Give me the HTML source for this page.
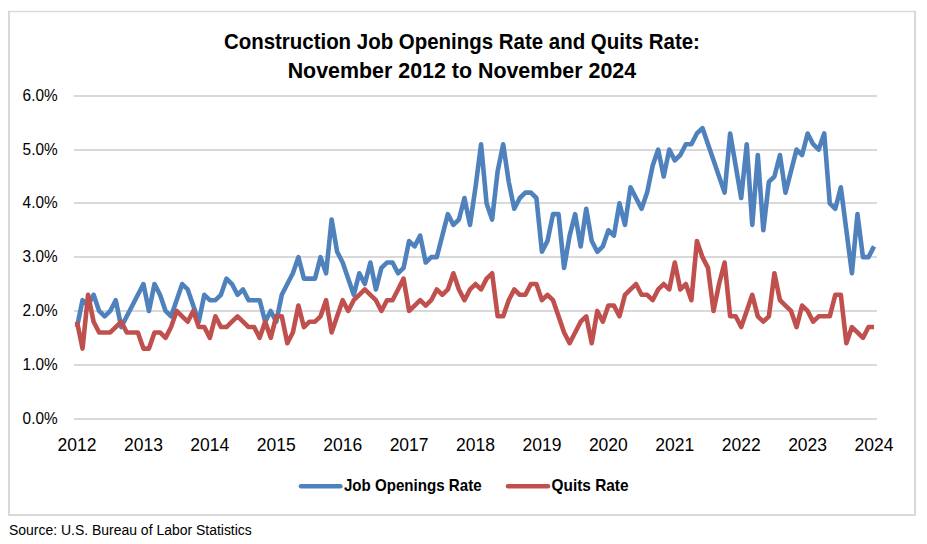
<!DOCTYPE html>
<html><head><meta charset="utf-8"><style>
html,body{margin:0;padding:0;background:#fff;}
svg{display:block;font-family:"Liberation Sans", sans-serif;}
</style></head><body>
<svg width="927" height="544" viewBox="0 0 927 544">
<rect x="0" y="0" width="927" height="544" fill="#fff"/>
<rect x="8" y="10.75" width="908" height="1.5" fill="#d9d9d9"/><rect x="8" y="11" width="2" height="505" fill="#d9d9d9"/><rect x="914" y="11" width="2" height="505" fill="#d9d9d9"/><rect x="8" y="514" width="908" height="2" fill="#d9d9d9"/>
<text x="461.9" y="48.9" text-anchor="middle" font-size="21.8" font-weight="bold" textLength="476" lengthAdjust="spacingAndGlyphs">Construction Job Openings Rate and Quits Rate:</text>
<text x="461.9" y="77.5" text-anchor="middle" font-size="21.8" font-weight="bold" textLength="348.5" lengthAdjust="spacingAndGlyphs">November 2012 to November 2024</text>
<rect x="74" y="418" width="803" height="2" fill="#d9d9d9"/>
<rect x="74" y="364" width="803" height="2" fill="#d9d9d9"/>
<rect x="74" y="310" width="803" height="2" fill="#d9d9d9"/>
<rect x="74" y="256" width="803" height="2" fill="#d9d9d9"/>
<rect x="74" y="202" width="803" height="2" fill="#d9d9d9"/>
<rect x="74" y="149" width="803" height="2" fill="#d9d9d9"/>
<rect x="74" y="95" width="803" height="2" fill="#d9d9d9"/>
<text x="22.6" y="423.60" font-size="16" fill="#000" textLength="35" lengthAdjust="spacingAndGlyphs">0.0%</text>
<text x="22.6" y="369.60" font-size="16" fill="#000" textLength="35" lengthAdjust="spacingAndGlyphs">1.0%</text>
<text x="22.6" y="315.60" font-size="16" fill="#000" textLength="35" lengthAdjust="spacingAndGlyphs">2.0%</text>
<text x="22.6" y="261.60" font-size="16" fill="#000" textLength="35" lengthAdjust="spacingAndGlyphs">3.0%</text>
<text x="22.6" y="207.60" font-size="16" fill="#000" textLength="35" lengthAdjust="spacingAndGlyphs">4.0%</text>
<text x="22.6" y="154.60" font-size="16" fill="#000" textLength="35" lengthAdjust="spacingAndGlyphs">5.0%</text>
<text x="22.6" y="100.60" font-size="16" fill="#000" textLength="35" lengthAdjust="spacingAndGlyphs">6.0%</text>
<text x="77.00" y="450.9" text-anchor="middle" font-size="17.5" fill="#000">2012</text>
<text x="143.42" y="450.9" text-anchor="middle" font-size="17.5" fill="#000">2013</text>
<text x="209.84" y="450.9" text-anchor="middle" font-size="17.5" fill="#000">2014</text>
<text x="276.26" y="450.9" text-anchor="middle" font-size="17.5" fill="#000">2015</text>
<text x="342.68" y="450.9" text-anchor="middle" font-size="17.5" fill="#000">2016</text>
<text x="409.10" y="450.9" text-anchor="middle" font-size="17.5" fill="#000">2017</text>
<text x="475.52" y="450.9" text-anchor="middle" font-size="17.5" fill="#000">2018</text>
<text x="541.94" y="450.9" text-anchor="middle" font-size="17.5" fill="#000">2019</text>
<text x="608.36" y="450.9" text-anchor="middle" font-size="17.5" fill="#000">2020</text>
<text x="674.78" y="450.9" text-anchor="middle" font-size="17.5" fill="#000">2021</text>
<text x="741.20" y="450.9" text-anchor="middle" font-size="17.5" fill="#000">2022</text>
<text x="807.62" y="450.9" text-anchor="middle" font-size="17.5" fill="#000">2023</text>
<text x="874.04" y="450.9" text-anchor="middle" font-size="17.5" fill="#000">2024</text>
<polyline points="77.00,327.07 82.53,300.18 88.07,305.56 93.61,294.81 99.14,310.94 104.67,316.32 110.21,310.94 115.75,300.18 121.28,327.07 126.81,316.32 132.35,305.56 137.88,294.81 143.42,284.05 148.95,310.94 154.49,284.05 160.03,294.81 165.56,310.94 171.09,316.32 176.63,300.18 182.17,284.05 187.70,289.43 193.24,305.56 198.77,321.70 204.31,294.81 209.84,300.18 215.38,300.18 220.91,294.81 226.44,278.67 231.98,284.05 237.52,294.81 243.05,289.43 248.59,300.18 254.12,300.18 259.65,300.18 265.19,321.70 270.73,310.94 276.26,321.70 281.80,294.81 287.33,284.05 292.87,273.29 298.40,257.16 303.94,278.67 309.47,278.67 315.00,278.67 320.54,257.16 326.08,273.29 331.61,219.51 337.14,251.78 342.68,262.54 348.22,278.67 353.75,294.81 359.29,273.29 364.82,284.05 370.36,262.54 375.89,289.43 381.43,267.92 386.96,262.54 392.50,262.54 398.03,273.29 403.56,267.92 409.10,241.03 414.63,246.40 420.17,235.65 425.70,262.54 431.24,257.16 436.78,257.16 442.31,235.65 447.85,214.14 453.38,224.89 458.92,219.51 464.45,198.00 469.99,224.89 475.52,187.25 481.06,144.22 486.59,203.38 492.12,219.51 497.66,171.11 503.19,144.22 508.73,181.87 514.26,208.76 519.80,198.00 525.34,192.62 530.87,192.62 536.40,198.00 541.94,251.78 547.48,241.03 553.01,214.14 558.55,214.14 564.08,267.92 569.62,235.65 575.15,214.14 580.68,246.40 586.22,208.76 591.75,241.03 597.29,251.78 602.83,246.40 608.36,230.27 613.89,235.65 619.43,203.38 624.97,224.89 630.50,187.25 636.03,198.00 641.57,208.76 647.11,192.62 652.64,165.73 658.18,149.60 663.71,176.49 669.25,149.60 674.78,160.36 680.32,154.98 685.85,144.22 691.38,144.22 696.92,133.47 702.46,128.09 707.99,144.22 713.52,160.36 719.06,176.49 724.60,192.62 730.13,133.47 735.66,165.73 741.20,198.00 746.74,144.22 752.27,224.89 757.81,154.98 763.34,230.27 768.88,181.87 774.41,176.49 779.95,154.98 785.48,192.62 791.01,171.11 796.55,149.60 802.09,154.98 807.62,133.47 813.15,144.22 818.69,149.60 824.23,133.47 829.76,203.38 835.30,208.76 840.83,187.25 846.37,230.27 851.90,273.29 857.44,214.14 862.97,257.16 868.50,257.16 874.04,246.40" fill="none" stroke="#4f81bd" stroke-width="4.6" stroke-linejoin="round" stroke-linecap="butt"/>
<polyline points="77.00,321.70 82.53,348.59 88.07,294.81 93.61,321.70 99.14,332.45 104.67,332.45 110.21,332.45 115.75,327.07 121.28,321.70 126.81,332.45 132.35,332.45 137.88,332.45 143.42,348.59 148.95,348.59 154.49,332.45 160.03,332.45 165.56,337.83 171.09,327.07 176.63,310.94 182.17,316.32 187.70,321.70 193.24,310.94 198.77,327.07 204.31,327.07 209.84,337.83 215.38,316.32 220.91,327.07 226.44,327.07 231.98,321.70 237.52,316.32 243.05,321.70 248.59,327.07 254.12,327.07 259.65,337.83 265.19,321.70 270.73,337.83 276.26,316.32 281.80,316.32 287.33,343.21 292.87,332.45 298.40,305.56 303.94,327.07 309.47,321.70 315.00,321.70 320.54,316.32 326.08,300.18 331.61,332.45 337.14,316.32 342.68,300.18 348.22,310.94 353.75,300.18 359.29,294.81 364.82,289.43 370.36,294.81 375.89,300.18 381.43,310.94 386.96,300.18 392.50,300.18 398.03,289.43 403.56,278.67 409.10,310.94 414.63,305.56 420.17,300.18 425.70,305.56 431.24,300.18 436.78,289.43 442.31,294.81 447.85,289.43 453.38,273.29 458.92,289.43 464.45,300.18 469.99,289.43 475.52,284.05 481.06,289.43 486.59,278.67 492.12,273.29 497.66,316.32 503.19,316.32 508.73,300.18 514.26,289.43 519.80,294.81 525.34,294.81 530.87,284.05 536.40,284.05 541.94,300.18 547.48,294.81 553.01,300.18 558.55,316.32 564.08,332.45 569.62,343.21 575.15,332.45 580.68,321.70 586.22,316.32 591.75,343.21 597.29,310.94 602.83,321.70 608.36,305.56 613.89,305.56 619.43,316.32 624.97,294.81 630.50,289.43 636.03,284.05 641.57,294.81 647.11,294.81 652.64,300.18 658.18,289.43 663.71,284.05 669.25,289.43 674.78,262.54 680.32,289.43 685.85,284.05 691.38,300.18 696.92,241.03 702.46,257.16 707.99,267.92 713.52,310.94 719.06,284.05 724.60,262.54 730.13,316.32 735.66,316.32 741.20,327.07 746.74,310.94 752.27,294.81 757.81,316.32 763.34,321.70 768.88,316.32 774.41,273.29 779.95,300.18 785.48,305.56 791.01,310.94 796.55,327.07 802.09,305.56 807.62,310.94 813.15,321.70 818.69,316.32 824.23,316.32 829.76,316.32 835.30,294.81 840.83,294.81 846.37,343.21 851.90,327.07 857.44,332.45 862.97,337.83 868.50,327.07 874.04,327.07" fill="none" stroke="#c0504d" stroke-width="4.6" stroke-linejoin="round" stroke-linecap="butt"/>
<line x1="301" x2="340.4" y1="486.2" y2="486.2" stroke="#4f81bd" stroke-width="4.5" stroke-linecap="round"/>
<text x="343.9" y="490.5" font-size="16.2" font-weight="bold" textLength="137.7" lengthAdjust="spacingAndGlyphs">Job Openings Rate</text>
<line x1="508" x2="548" y1="486.2" y2="486.2" stroke="#c0504d" stroke-width="4.5" stroke-linecap="round"/>
<text x="551.6" y="490.5" font-size="16.2" font-weight="bold" textLength="76.9" lengthAdjust="spacingAndGlyphs">Quits Rate</text>
<text x="9" y="534.7" font-size="14" textLength="242.8" lengthAdjust="spacingAndGlyphs">Source: U.S. Bureau of Labor Statistics</text>
</svg>
</body></html>
